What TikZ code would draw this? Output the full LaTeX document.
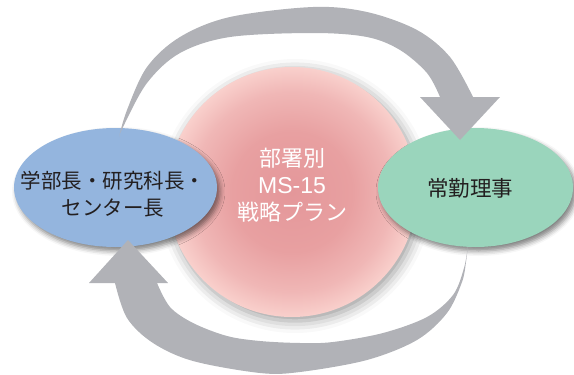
\documentclass[tikz,border=0pt]{standalone}
\usepackage{fontspec}
\newfontfamily\jp{Noto Sans CJK JP}
\newfontfamily\lat{Liberation Sans}
\usetikzlibrary{shapes.geometric,shadows.blur}
\definecolor{bluefill}{HTML}{94B5DE}
\definecolor{greenfill}{HTML}{9AD5BC}
\definecolor{arrowgrey}{HTML}{B1B2B7}
\definecolor{inkdark}{HTML}{231F20}
\definecolor{pinkc}{HTML}{E4979A}
\definecolor{pinkm}{HTML}{E8A0A1}
\definecolor{pinkl}{HTML}{F0B7B6}
\definecolor{pinke}{HTML}{F9D0CC}
\pgfdeclareradialshading{pinkglow}{\pgfpoint{0bp}{0bp}}{color(0bp)=(pinkc); color(12bp)=(pinkm); color(20bp)=(pinkl); color(25bp)=(pinke); color(50bp)=(pinke)}
\begin{document}
\begin{tikzpicture}[x=1pt,y=-1pt,
  oval/.style={ellipse, draw=none, inner sep=0pt,
    blur shadow={shadow xshift=3pt, shadow yshift=-4pt, shadow blur radius=5pt, shadow opacity=50}},
  plan/.style={circle, draw=none, minimum size=250pt, inner sep=0pt, shading=pinkglow,
    blur shadow={shadow xshift=3pt, shadow yshift=-4pt, shadow blur radius=12pt, shadow opacity=40}},
  dtext/.style={text=inkdark, align=center, inner sep=0pt},
  flow/.style={fill=arrowgrey, draw=none}
]
\useasboundingbox (0,0) rectangle (574,375);

\node[plan] (plan) at (292,192) {};
\node[text=white, align=center, inner sep=0pt, font=\jp\fontsize{22}{27}\selectfont] (plantext) at (292,185.5) {部署別\\{\lat\fontsize{23}{27}\selectfont MS-15}\\戦略プラン};

\node[oval, fill=bluefill, minimum width=203pt, minimum height=119pt] (dean) at (115.5,187.5) {};
\node[dtext, font=\jp\fontsize{20.5}{27.3}\selectfont] (deantext) at (113,194.5) {学部長・研究科長・\\センター長};

\node[oval, fill=greenfill, minimum width=195pt, minimum height=119pt] (exec) at (475.5,187.5) {};
\node[dtext, font=\jp\fontsize{21.5}{26}\selectfont] (exectext) at (470,188) {常勤理事};

% top arrow: dean -> exec
\coordinate (t1) at (119,137);
\coordinate (h1) at (460,140);
\fill[flow] plot[smooth, tension=0.55] coordinates {(t1) (127,110) (147,67) (180,37) (230,17) (313,7) (367,12) (417,30) (450,57) (473,97)}
  -- (500,97) -- (h1) -- (420,97) --
  plot[smooth, tension=0.55] coordinates {(440,97) (427,73) (400,50) (367,37) (313,33) (230,37) (180,53) (147,83) (123,127) (t1)} -- cycle;

% bottom arrow: exec -> dean
\coordinate (t2) at (468,245);
\coordinate (h2) at (128,240);
\fill[flow] plot[smooth, tension=0.55] coordinates {(t2) (466,262) (462,282) (447,313) (417,340) (367,360) (300,372) (260,373) (193,361) (153,343) (127,318) (115,283)}
  -- (89,283) -- (h2) -- (168,283) --
  plot[smooth, tension=0.55] coordinates {(157,283) (170,307) (193,323) (227,336) (260,341) (300,343) (333,342) (383,333) (427,317) (453,295) (464,268) (t2)} -- cycle;
\end{tikzpicture}
\end{document}
